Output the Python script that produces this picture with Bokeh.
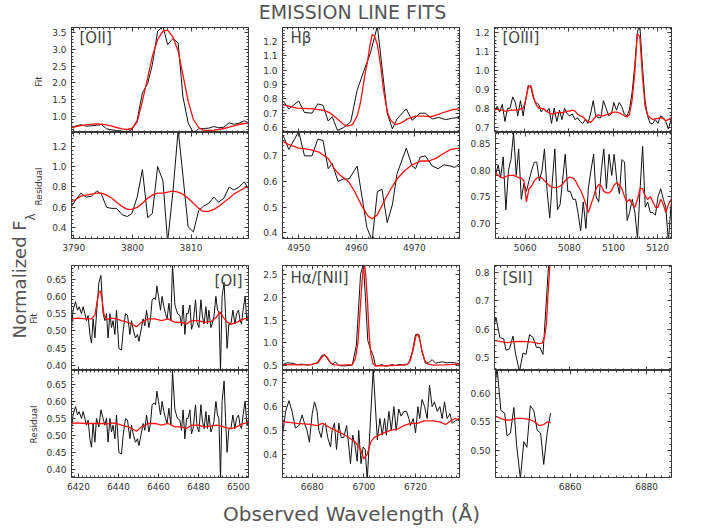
from math import pi
from bokeh.plotting import figure
from bokeh.models import Range1d, LinearAxis, SingleIntervalTicker, Label, PrintfTickFormatter
from bokeh.layouts import row, column
from bokeh.embed import file_html
from bokeh.resources import INLINE
from bokeh.core.properties import value

# ------------------------------------------------------------------ data
PANEL_NAMES = ["[OII]", "H\u03b2", "[OIII]", "[OI]", "H\u03b1/[NII]", "[SII]"]

# [OII]
OII_WL = [3789.5, 3790.4, 3791.2, 3792.1, 3793.0, 3793.9, 3794.7, 3795.6, 3796.5, 3797.3,
          3798.2, 3799.1, 3799.9, 3800.8, 3801.7, 3802.6, 3803.4, 3804.3, 3805.2, 3806.0,
          3806.9, 3807.8, 3808.6, 3809.5, 3810.4, 3811.3, 3812.1, 3813.0, 3813.9, 3814.7,
          3815.6, 3816.5, 3817.3, 3818.2, 3819.1, 3820.0]
OII_FIT_DATA = [0.65, 0.71, 0.74, 0.70, 0.71, 0.73, 0.75, 0.62, 0.59, 0.57,
                0.55, 0.52, 0.60, 0.88, 1.70, 1.98, 2.55, 3.55, 3.69, 3.15,
                3.33, 3.20, 1.60, 0.80, 0.50, 0.62, 0.63, 0.64, 0.69, 0.65,
                0.67, 0.80, 0.76, 0.79, 0.86, 0.78]
OII_FIT_MODEL = [0.65, 0.69, 0.72, 0.74, 0.76, 0.77, 0.76, 0.74, 0.70, 0.66,
                 0.62, 0.60, 0.63, 0.82, 1.45, 2.15, 2.80, 3.30, 3.55, 3.58,
                 3.38, 2.95, 2.25, 1.45, 0.90, 0.66, 0.58, 0.57, 0.58, 0.60,
                 0.63, 0.67, 0.71, 0.75, 0.78, 0.80]
OII_RES_DATA = [0.60, 0.68, 0.74, 0.70, 0.71, 0.76, 0.73, 0.60, 0.59, 0.59,
                0.53, 0.51, 0.54, 0.70, 0.97, 0.50, 0.54, 1.00, 0.86, 0.26,
                0.75, 1.36, 0.92, 0.41, 0.36, 0.57, 0.61, 0.64, 0.70, 0.65,
                0.69, 0.80, 0.77, 0.80, 0.85, 0.76]
OII_RES_MODEL = [0.65, 0.68, 0.71, 0.72, 0.73, 0.74, 0.74, 0.72, 0.69, 0.65,
                 0.61, 0.58, 0.58, 0.60, 0.64, 0.69, 0.72, 0.74, 0.74, 0.75,
                 0.76, 0.75, 0.73, 0.69, 0.64, 0.59, 0.56, 0.56, 0.58, 0.61,
                 0.65, 0.69, 0.73, 0.76, 0.79, 0.81]

# H-beta
HB_FIT_WL = [4946.5, 4947.4, 4948.3, 4950.0, 4951.0, 4952.3, 4953.3, 4954.2, 4955.1, 4955.8,
             4956.7, 4957.8, 4959.0, 4960.1, 4961.3, 4962.4, 4963.6, 4965.3, 4966.2, 4967.0,
             4968.6, 4969.6, 4971.0, 4971.9, 4973.1, 4974.2, 4975.4, 4976.6, 4977.8]
HB_FIT_DATA = [0.80, 0.78, 0.73, 0.785, 0.705, 0.70, 0.765, 0.755, 0.645, 0.675,
               0.58, 0.60, 0.64, 0.86, 1.00, 1.12, 1.31, 0.70, 0.59, 0.66,
               0.73, 0.65, 0.70, 0.70, 0.66, 0.67, 0.655, 0.665, 0.67]
HB_MOD_WL = [4946.5, 4947.2, 4949.7, 4952.6, 4954.4, 4955.5, 4956.7, 4957.8, 4958.4, 4959.3,
             4960.1, 4960.6, 4961.0, 4961.4, 4961.9, 4962.3, 4962.7, 4963.1, 4963.6, 4963.9,
             4964.3, 4964.6, 4965.0, 4965.4, 4965.9, 4966.7, 4967.6, 4968.8, 4970.2, 4971.7,
             4972.8, 4974.0, 4975.4, 4976.6, 4977.8]
HB_FIT_MODEL = [0.765, 0.76, 0.735, 0.73, 0.72, 0.70, 0.66, 0.62, 0.61, 0.62,
                0.68, 0.76, 0.85, 0.96, 1.06, 1.17, 1.25, 1.24, 1.18, 1.10,
                0.99, 0.88, 0.78, 0.70, 0.65, 0.62, 0.63, 0.66, 0.68, 0.68,
                0.675, 0.69, 0.71, 0.725, 0.73]
HB_RES_WL = [4946.5, 4947.3, 4948.3, 4950.0, 4951.0, 4952.3, 4953.3, 4954.2, 4955.1, 4955.8,
             4956.8, 4957.7, 4958.7, 4960.1, 4961.8, 4962.7, 4963.6, 4964.4, 4965.3, 4966.2,
             4967.0, 4968.6, 4969.6, 4970.2, 4971.0, 4971.9, 4973.1, 4974.1, 4975.1, 4976.3,
             4977.0, 4977.8]
HB_RES_DATA = [0.79, 0.78, 0.725, 0.795, 0.70, 0.70, 0.765, 0.76, 0.65, 0.67,
               0.60, 0.61, 0.61, 0.66, 0.42, 0.37, 0.56, 0.57, 0.44, 0.51,
               0.63, 0.73, 0.66, 0.65, 0.695, 0.70, 0.66, 0.65, 0.665, 0.66,
               0.655, 0.67]
HB_RMOD_WL = [4946.5, 4948.2, 4950.0, 4951.8, 4953.5, 4955.1, 4956.3, 4957.4, 4958.6, 4959.7,
              4960.9, 4962.0, 4962.7, 4963.6, 4964.7, 4965.9, 4967.0, 4968.2, 4969.6, 4971.1,
              4972.5, 4973.7, 4975.1, 4976.3, 4977.8]
HB_RES_MODEL = [0.765, 0.745, 0.73, 0.725, 0.715, 0.69, 0.645, 0.62, 0.60, 0.56,
                0.505, 0.465, 0.455, 0.47, 0.52, 0.57, 0.61, 0.64, 0.665, 0.68,
                0.68, 0.69, 0.71, 0.725, 0.73]

# [OIII]
OIII_WL = [5046.5, 5047.7, 5048.8, 5050.0, 5051.2, 5052.4, 5053.5, 5054.7, 5055.9, 5057.0,
           5058.2, 5059.4, 5060.5, 5061.7, 5062.9, 5064.1, 5065.2, 5066.4, 5067.6, 5068.7,
           5069.9, 5071.1, 5072.2, 5073.4, 5074.6, 5075.8, 5076.9, 5078.1, 5079.3, 5080.4,
           5081.6, 5082.8, 5083.9, 5085.1, 5086.3, 5087.5, 5088.6, 5089.8, 5091.0, 5092.1,
           5093.3, 5094.5, 5095.6, 5096.8, 5098.0, 5099.2, 5100.3, 5101.5, 5102.7, 5103.8,
           5105.0, 5106.2, 5107.3, 5108.5, 5109.7, 5110.9, 5112.0, 5113.2, 5114.4, 5115.5,
           5116.7, 5117.9, 5119.0, 5120.2, 5121.4, 5122.6, 5123.7, 5124.9, 5126.1]
OIII_FIT_DATA = [0.79, 0.81, 0.78, 0.82, 0.73, 0.80, 0.80, 0.86, 0.83, 0.76,
                 0.84, 0.76, 0.84, 0.92, 0.91, 0.85, 0.83, 0.82, 0.78, 0.80,
                 0.78, 0.80, 0.72, 0.80, 0.73, 0.79, 0.74, 0.80, 0.77, 0.76,
                 0.77, 0.74, 0.75, 0.73, 0.72, 0.74, 0.72, 0.77, 0.84, 0.76,
                 0.75, 0.75, 0.84, 0.80, 0.76, 0.77, 0.83, 0.79, 0.83, 0.81,
                 0.77, 0.76, 0.79, 0.88, 1.02, 1.20, 1.24, 1.02, 0.84, 0.76,
                 0.72, 0.72, 0.74, 0.72, 0.76, 0.75, 0.73, 0.69, 0.74]
OIII_FIT_MODEL = [0.79, 0.795, 0.79, 0.79, 0.785, 0.785, 0.79, 0.79, 0.79, 0.79,
                  0.795, 0.80, 0.84, 0.91, 0.92, 0.86, 0.82, 0.80, 0.80, 0.795,
                  0.785, 0.775, 0.77, 0.77, 0.775, 0.78, 0.775, 0.78, 0.785, 0.785,
                  0.79, 0.785, 0.77, 0.76, 0.755, 0.74, 0.73, 0.725, 0.74, 0.755,
                  0.765, 0.76, 0.76, 0.765, 0.77, 0.775, 0.78, 0.78, 0.775, 0.77,
                  0.76, 0.755, 0.765, 0.84, 0.98, 1.19, 1.18, 0.97, 0.81, 0.765,
                  0.75, 0.74, 0.745, 0.745, 0.75, 0.745, 0.735, 0.74, 0.75]
OIII_RES_DATA = [0.79, 0.81, 0.785, 0.825, 0.725, 0.80, 0.82, 0.87, 0.79, 0.84,
                 0.745, 0.775, 0.76, 0.78, 0.80, 0.815, 0.815, 0.78, 0.80, 0.84,
                 0.76, 0.71, 0.775, 0.84, 0.725, 0.735, 0.78, 0.83, 0.76, 0.76,
                 0.745, 0.745, 0.72, 0.685, 0.74, 0.69, 0.765, 0.80, 0.83, 0.75,
                 0.74, 0.80, 0.84, 0.765, 0.83, 0.79, 0.83, 0.78, 0.755, 0.82,
                 0.815, 0.705, 0.72, 0.745, 0.72, 0.67, 0.76, 0.845, 0.73, 0.74,
                 0.72, 0.72, 0.715, 0.75, 0.765, 0.745, 0.73, 0.665, 0.735]
OIII_RES_MODEL = [0.795, 0.79, 0.787, 0.785, 0.788, 0.79, 0.79, 0.79, 0.788, 0.786,
                  0.785, 0.78, 0.74, 0.765, 0.77, 0.78, 0.785, 0.787, 0.785, 0.78,
                  0.775, 0.77, 0.768, 0.767, 0.768, 0.77, 0.773, 0.78, 0.785, 0.787,
                  0.785, 0.78, 0.77, 0.762, 0.75, 0.735, 0.72, 0.735, 0.75, 0.765,
                  0.773, 0.77, 0.76, 0.757, 0.757, 0.762, 0.772, 0.776, 0.772, 0.765,
                  0.75, 0.74, 0.745, 0.735, 0.73, 0.745, 0.765, 0.765, 0.75, 0.745,
                  0.75, 0.74, 0.73, 0.73, 0.745, 0.735, 0.72, 0.735, 0.745]

# [OI]
OI_WL = [6416.5, 6417.3, 6418.5, 6419.5, 6420.3, 6421.5, 6422.3, 6423.2, 6424.0, 6424.8,
         6425.7, 6426.5, 6427.3, 6428.2, 6429.0, 6430.2, 6431.2, 6432.3, 6433.2, 6434.0,
         6434.8, 6435.7, 6436.5, 6437.3, 6438.2, 6439.0, 6440.2, 6441.5, 6442.3, 6443.5,
         6444.5, 6445.7, 6446.5, 6447.5, 6448.5, 6449.5, 6450.2, 6451.2, 6452.3, 6453.2,
         6454.0, 6455.2, 6456.0, 6456.8, 6457.8, 6458.5, 6459.2, 6460.0, 6461.0, 6461.8,
         6462.7, 6463.5, 6464.3, 6465.2, 6466.2, 6467.0, 6468.2, 6469.5, 6470.7, 6471.5,
         6472.3, 6473.2, 6474.0, 6474.8, 6475.7, 6476.5, 6477.3, 6478.5, 6479.3, 6480.2,
         6481.2, 6482.0, 6482.8, 6483.7, 6484.5, 6485.2, 6486.2, 6486.8, 6487.7, 6488.7,
         6489.5, 6490.2, 6491.0, 6491.8, 6492.8, 6493.5, 6494.3, 6495.2, 6496.2, 6497.2,
         6498.2, 6499.0, 6500.0, 6500.8, 6501.5, 6502.3, 6503.3, 6504.2, 6505.0]
OI_FIT_DATA = [0.51, 0.56, 0.585, 0.56, 0.57, 0.55, 0.57, 0.55, 0.53, 0.545,
               0.49, 0.465, 0.535, 0.48, 0.55, 0.64, 0.66, 0.55, 0.53, 0.55,
               0.48, 0.55, 0.51, 0.53, 0.49, 0.56, 0.45, 0.445, 0.50, 0.55,
               0.545, 0.49, 0.53, 0.50, 0.48, 0.49, 0.47, 0.50, 0.535, 0.515,
               0.56, 0.51, 0.535, 0.59, 0.595, 0.59, 0.63, 0.60, 0.56, 0.60,
               0.57, 0.55, 0.535, 0.58, 0.53, 0.69, 0.575, 0.55, 0.545, 0.515,
               0.575, 0.49, 0.55, 0.55, 0.575, 0.505, 0.52, 0.59, 0.525, 0.51,
               0.59, 0.54, 0.52, 0.57, 0.52, 0.56, 0.51, 0.52, 0.54, 0.60,
               0.56, 0.555, 0.385, 0.60, 0.64, 0.55, 0.45, 0.52, 0.52, 0.56,
               0.52, 0.55, 0.56, 0.53, 0.52, 0.56, 0.60, 0.53, 0.55]
OI_RES_DATA = [0.52, 0.56, 0.585, 0.56, 0.57, 0.55, 0.57, 0.55, 0.53, 0.545,
               0.49, 0.465, 0.535, 0.48, 0.55, 0.525, 0.575, 0.55, 0.53, 0.55,
               0.48, 0.55, 0.51, 0.53, 0.49, 0.56, 0.45, 0.445, 0.50, 0.55,
               0.545, 0.49, 0.53, 0.50, 0.48, 0.49, 0.47, 0.50, 0.535, 0.515,
               0.56, 0.51, 0.535, 0.59, 0.595, 0.59, 0.63, 0.60, 0.56, 0.60,
               0.57, 0.55, 0.535, 0.58, 0.53, 0.69, 0.575, 0.55, 0.545, 0.515,
               0.575, 0.49, 0.55, 0.55, 0.575, 0.505, 0.52, 0.59, 0.525, 0.51,
               0.59, 0.54, 0.52, 0.57, 0.52, 0.56, 0.51, 0.52, 0.54, 0.60,
               0.56, 0.55, 0.37, 0.60, 0.66, 0.55, 0.45, 0.52, 0.52, 0.56,
               0.52, 0.55, 0.56, 0.53, 0.52, 0.56, 0.60, 0.53, 0.55]
OI_MOD_WL = [6416.5, 6419.8, 6423.2, 6426.5, 6428.2, 6429.3, 6430.2, 6431.0, 6431.8, 6432.8,
             6434.0, 6436.5, 6439.0, 6441.5, 6444.8, 6447.3, 6449.0, 6451.5, 6454.8, 6458.2,
             6461.5, 6464.8, 6468.2, 6471.5, 6474.0, 6476.5, 6479.8, 6483.2, 6486.5, 6489.0,
             6490.7, 6492.3, 6494.5, 6496.5, 6499.0, 6501.5, 6505.0]
OI_FIT_MODEL = [0.535, 0.537, 0.535, 0.535, 0.545, 0.585, 0.612, 0.615, 0.59, 0.545,
                0.533, 0.537, 0.535, 0.53, 0.525, 0.518, 0.512, 0.525, 0.535, 0.535,
                0.53, 0.535, 0.525, 0.525, 0.52, 0.53, 0.53, 0.525, 0.528, 0.54,
                0.555, 0.54, 0.525, 0.52, 0.525, 0.533, 0.538]
OI_RES_MODEL = [0.535, 0.537, 0.535, 0.535, 0.535, 0.535, 0.535, 0.535, 0.535, 0.535,
                0.533, 0.537, 0.535, 0.53, 0.525, 0.518, 0.512, 0.525, 0.535, 0.535,
                0.53, 0.535, 0.525, 0.525, 0.52, 0.53, 0.53, 0.525, 0.528, 0.53,
                0.528, 0.525, 0.522, 0.52, 0.525, 0.533, 0.538]

# H-alpha / [NII]
HA_FIT_WL = [6668.5, 6670.3, 6672.2, 6674.2, 6676.1, 6678.0, 6680.0, 6681.9, 6683.9, 6685.1,
             6686.4, 6687.7, 6689.0, 6690.3, 6692.2, 6693.8, 6695.5, 6697.1, 6698.7, 6699.8,
             6700.6, 6701.5, 6702.6, 6703.6, 6704.5, 6705.8, 6707.1, 6708.4, 6709.7, 6710.9,
             6712.2, 6713.5, 6714.8, 6716.1, 6717.4, 6718.7, 6720.0, 6721.3, 6722.5, 6723.8,
             6725.1, 6726.4, 6727.7, 6729.0, 6730.3, 6732.0, 6733.5, 6735.1, 6736.9]
HA_FIT_DATA = [0.52, 0.56, 0.55, 0.52, 0.53, 0.51, 0.52, 0.56, 0.73, 0.72,
               0.60, 0.52, 0.58, 0.50, 0.49, 0.50, 0.51, 0.95, 2.50, 2.75,
               2.00, 1.05, 0.85, 0.72, 0.49, 0.50, 0.52, 0.48, 0.50, 0.52,
               0.50, 0.52, 0.52, 0.51, 0.55, 0.80, 1.18, 1.18, 0.80, 0.55,
               0.56, 0.63, 0.55, 0.57, 0.58, 0.56, 0.57, 0.56, 0.54]
HA_MOD_WL = [6668.5, 6674.2, 6679.3, 6682.2, 6683.5, 6684.6, 6685.8, 6687.1, 6688.6, 6692.2,
             6695.5, 6696.7, 6697.7, 6698.4, 6699.1, 6699.7, 6700.2, 6700.7, 6701.4, 6702.0,
             6702.7, 6703.5, 6704.5, 6706.4, 6710.3, 6714.2, 6716.7, 6718.0, 6719.1, 6720.0,
             6720.7, 6721.5, 6722.4, 6723.5, 6724.7, 6727.1, 6730.9, 6736.9]
HA_FIT_MODEL = [0.52, 0.515, 0.52, 0.56, 0.66, 0.74, 0.68, 0.56, 0.515, 0.51,
                0.52, 0.65, 1.00, 1.60, 2.20, 2.62, 2.75, 2.50, 1.90, 1.20,
                0.75, 0.55, 0.49, 0.49, 0.50, 0.51, 0.52, 0.62, 0.85, 1.12,
                1.20, 1.10, 0.85, 0.62, 0.53, 0.51, 0.515, 0.53]
HA_RES_WL = [6668.5, 6669.7, 6671.0, 6672.2, 6673.5, 6674.8, 6676.1, 6677.0, 6678.0, 6678.9,
             6680.0, 6680.9, 6681.9, 6682.6, 6683.5, 6684.2, 6685.1, 6686.0, 6687.1, 6687.7,
             6688.6, 6689.4, 6690.3, 6691.2, 6692.2, 6693.3, 6694.2, 6694.8, 6695.7, 6696.5,
             6697.4, 6698.0, 6698.9, 6699.7, 6700.5, 6701.3, 6703.6, 6705.2, 6706.2, 6707.1,
             6708.0, 6708.7, 6709.7, 6710.6, 6711.6, 6712.5, 6713.5, 6714.4, 6715.5, 6716.5,
             6717.4, 6718.0, 6719.1, 6720.0, 6720.9, 6721.6, 6722.5, 6723.5, 6724.5, 6725.4,
             6726.4, 6727.3, 6728.4, 6729.4, 6730.3, 6731.2, 6732.2, 6733.3, 6734.2, 6735.4,
             6736.9]
HA_RES_DATA = [0.48, 0.58, 0.625, 0.58, 0.51, 0.52, 0.565, 0.53, 0.50, 0.45,
               0.57, 0.62, 0.58, 0.50, 0.47, 0.52, 0.53, 0.47, 0.43, 0.50,
               0.53, 0.42, 0.53, 0.47, 0.47, 0.52, 0.43, 0.36, 0.48, 0.44,
               0.37, 0.50, 0.36, 0.43, 0.42, 0.29, 0.76, 0.46, 0.55, 0.48,
               0.55, 0.48, 0.58, 0.50, 0.60, 0.50, 0.59, 0.56, 0.58, 0.58,
               0.55, 0.52, 0.55, 0.49, 0.60, 0.55, 0.63, 0.60, 0.55, 0.69,
               0.60, 0.62, 0.58, 0.60, 0.55, 0.62, 0.55, 0.57, 0.53, 0.54,
               0.55]
HA_RMOD_WL = [6668.5, 6674.2, 6679.3, 6681.9, 6683.9, 6687.1, 6691.0, 6694.2, 6696.7, 6698.7,
              6700.0, 6701.3, 6702.6, 6703.9, 6705.8, 6707.7, 6710.3, 6712.9, 6715.5, 6718.0,
              6720.7, 6723.2, 6727.1, 6729.6, 6731.6, 6733.5, 6735.4, 6736.9]
HA_RES_MODEL = [0.537, 0.53, 0.525, 0.52, 0.53, 0.51, 0.49, 0.47, 0.45, 0.42,
                0.38, 0.40, 0.45, 0.47, 0.48, 0.49, 0.50, 0.505, 0.52, 0.53,
                0.53, 0.54, 0.54, 0.535, 0.525, 0.54, 0.55, 0.545]

# [SII]
SII_FIT_WL = [6840.5, 6840.9, 6841.9, 6842.9, 6843.5, 6844.4, 6845.3, 6846.0, 6847.0, 6847.9,
              6848.7, 6849.6, 6850.5, 6851.4, 6852.3, 6853.1, 6854.9]
SII_FIT_DATA = [0.62, 0.64, 0.57, 0.565, 0.525, 0.53, 0.575, 0.51, 0.45, 0.515,
                0.51, 0.58, 0.57, 0.535, 0.535, 0.51, 0.90]
SII_MOD_WL = [6840.5, 6842.1, 6843.8, 6845.5, 6847.3, 6849.0, 6850.7, 6852.0, 6852.9, 6853.5,
              6854.0, 6854.4, 6854.9, 6855.3]
SII_FIT_MODEL = [0.56, 0.555, 0.552, 0.555, 0.556, 0.555, 0.553, 0.548, 0.55, 0.57,
                 0.62, 0.72, 0.83, 0.95]
SII_RES_WL = [6840.5, 6840.9, 6841.9, 6842.9, 6843.5, 6844.4, 6845.3, 6846.0, 6847.0, 6847.9,
              6848.7, 6849.6, 6850.5, 6851.4, 6852.3, 6853.1, 6854.0, 6854.9]
SII_RES_DATA = [0.62, 0.645, 0.57, 0.565, 0.525, 0.53, 0.575, 0.51, 0.45, 0.515,
                0.505, 0.578, 0.57, 0.535, 0.53, 0.475, 0.53, 0.565]
SII_RMOD_WL = [6840.5, 6842.9, 6844.2, 6845.9, 6847.6, 6849.4, 6850.7, 6852.0, 6853.1, 6854.2,
               6854.9]
SII_RES_MODEL = [0.56, 0.553, 0.553, 0.556, 0.556, 0.554, 0.55, 0.543, 0.545, 0.55, 0.548]

# ------------------------------------------------------------------ style / layout
FONT = "DejaVu Sans"
AXC = "#3a3a3a"
TXT = "#333333"
BIG = "#555555"
RED = "#ff1010"
BLK = "#111111"
FRAME_W = 177

# per-panel axis ranges, tick intervals and tick-label formats
SPECS = [
    dict(xr=(3789.6, 3819.8), xint=10, fyr=(0.51, 3.66), fyi=0.5, ffmt="%.1f",
         ryr=(0.295, 1.334), ryi=0.2, rfmt="%.1f",
         fit=[(OII_WL, OII_FIT_DATA), (OII_WL, OII_FIT_MODEL)],
         res=[(OII_WL, OII_RES_DATA), (OII_WL, OII_RES_MODEL)], side="left"),
    dict(xr=(4947.2, 4977.8), xint=10, fyr=(0.565, 1.299), fyi=0.1, ffmt="%.1f",
         ryr=(0.378, 0.791), ryi=0.1, rfmt="%.1f",
         fit=[(HB_FIT_WL, HB_FIT_DATA), (HB_MOD_WL, HB_FIT_MODEL)],
         res=[(HB_RES_WL, HB_RES_DATA), (HB_RMOD_WL, HB_RES_MODEL)], side="left"),
    dict(xr=(5046.5, 5126.3), xint=20, fyr=(0.672, 1.226), fyi=0.1, ffmt="%.1f",
         ryr=(0.671, 0.871), ryi=0.05, rfmt="%.2f",
         fit=[(OIII_WL, OIII_FIT_DATA), (OIII_WL, OIII_FIT_MODEL)],
         res=[(OIII_WL, OIII_RES_DATA), (OIII_WL, OIII_RES_MODEL)], side="left"),
    dict(xr=(6416.5, 6505.0), xint=20, fyr=(0.386, 0.689), fyi=0.05, ffmt="%.2f",
         ryr=(0.376, 0.691), ryi=0.05, rfmt="%.2f",
         fit=[(OI_WL, OI_FIT_DATA), (OI_MOD_WL, OI_FIT_MODEL)],
         res=[(OI_WL, OI_RES_DATA), (OI_MOD_WL, OI_RES_MODEL)], side="right"),
    dict(xr=(6668.5, 6737.0), xint=20, fyr=(0.39, 2.70), fyi=0.5, ffmt="%.1f",
         ryr=(0.302, 0.752), ryi=0.1, rfmt="%.1f",
         fit=[(HA_FIT_WL, HA_FIT_DATA), (HA_MOD_WL, HA_FIT_MODEL)],
         res=[(HA_RES_WL, HA_RES_DATA), (HA_RMOD_WL, HA_RES_MODEL)], side="left"),
    dict(xr=(6840.5, 6886.5), xint=20, fyr=(0.453, 0.825), fyi=0.1, ffmt="%.1f",
         ryr=(0.452, 0.640), ryi=0.05, rfmt="%.2f",
         fit=[(SII_FIT_WL, SII_FIT_DATA), (SII_MOD_WL, SII_FIT_MODEL)],
         res=[(SII_RES_WL, SII_RES_DATA), (SII_RMOD_WL, SII_RES_MODEL)], side="left"),
]

YLAB_W = 42
COL_BORDERS = [(29, 8), (26, 8), (27, 35)]
TITLE_H = 23
XLAB_H = 34
# (border_top, frame_height, border_bottom)
ROW_A = (4, 105, 0)
ROW_B = (0, 106, 17)
ROW_C = (10, 105, 0)
ROW_D = (0, 107, 17)


def style_axis(ax, interval, nminor, show, fmt):
    ax.ticker = SingleIntervalTicker(interval=interval, num_minor_ticks=nminor)
    ax.axis_line_color = AXC
    ax.major_tick_line_color = AXC
    ax.minor_tick_line_color = AXC
    ax.major_tick_in = 4
    ax.major_tick_out = 0
    ax.minor_tick_in = 2
    ax.minor_tick_out = 0
    ax.axis_label = None
    if show:
        ax.formatter = PrintfTickFormatter(format=fmt)
        ax.major_label_text_font = FONT
        ax.major_label_text_font_size = "9px"
        ax.major_label_text_color = TXT
        ax.major_label_standoff = 5
    else:
        ax.major_label_text_font_size = "0px"
        ax.major_label_text_color = None
        ax.major_label_standoff = 0


def make_panel(spec, col, rowdims, kind, xlabels, name=None, name_dy=1):
    bl, br = COL_BORDERS[col]
    bt, fh, bb = rowdims
    yr = spec["fyr"] if kind == "fit" else spec["ryr"]
    yint = spec["fyi"] if kind == "fit" else spec["ryi"]
    yfmt = spec["ffmt"] if kind == "fit" else spec["rfmt"]
    p = figure(width=bl + FRAME_W + br, height=bt + fh + bb,
               x_range=Range1d(*spec["xr"]), y_range=Range1d(*yr),
               toolbar_location=None, output_backend="svg", title=None,
               min_border_left=bl, min_border_right=br,
               min_border_top=bt, min_border_bottom=bb)
    p.grid.visible = False
    p.outline_line_color = AXC
    p.border_fill_color = "white"
    style_axis(p.xaxis[0], spec["xint"], 10, xlabels, "%d")
    style_axis(p.yaxis[0], yint, 5, True, yfmt)
    top = LinearAxis()
    style_axis(top, spec["xint"], 10, False, "%d")
    p.add_layout(top, "above")
    rgt = LinearAxis()
    style_axis(rgt, yint, 5, False, yfmt)
    p.add_layout(rgt, "right")
    (dx, dy), (mx, my) = spec[kind]
    p.line(dx, dy, line_color=BLK, line_width=1)
    p.line(mx, my, line_color=RED, line_width=1.3)
    if name:
        if spec["side"] == "left":
            lab = Label(x=spec["xr"][0], y=yr[1], x_offset=8, y_offset=-name_dy,
                        text=name, text_align="left", text_baseline="top")
        else:
            lab = Label(x=spec["xr"][1], y=yr[1], x_offset=-6, y_offset=-name_dy,
                        text=name, text_align="right", text_baseline="top")
        lab.text_font = FONT
        lab.text_font_size = "15px"
        lab.text_color = "#444444"
        p.add_layout(lab)
    return p


def text_fig(w, h):
    f = figure(width=w, height=h, x_range=Range1d(0, w), y_range=Range1d(0, h),
               toolbar_location=None, output_backend="svg", min_border=0, title=None,
               x_axis_location=None, y_axis_location=None)
    f.grid.visible = False
    f.outline_line_color = None
    f.border_fill_color = "white"
    return f


rows = []
for dims, kind, top_idx in [(ROW_A, "fit", 0), (ROW_B, "res", 0),
                            (ROW_C, "fit", 3), (ROW_D, "res", 3)]:
    figs = []
    for c in range(3):
        idx = top_idx + c
        nm = PANEL_NAMES[idx] if kind == "fit" else None
        dy = 1 if top_idx == 0 else 3
        if idx == 3:
            dy = 6
        figs.append(make_panel(SPECS[idx], c, dims, kind, xlabels=(kind == "res"),
                               name=nm, name_dy=dy))
    rows.append(row(*figs))
grid = column(*rows)

GRID_H = sum(d[0] + d[1] + d[2] for d in (ROW_A, ROW_B, ROW_C, ROW_D))
TOTAL_W = YLAB_W + sum(bl + FRAME_W + br for bl, br in COL_BORDERS)

# left-hand labels (rotated)
ylab = text_fig(YLAB_W, GRID_H)
ylab.text(x=[19], y=[156], text=["Normalized F"], angle=pi / 2, text_align="left",
          text_baseline="middle", text_font=value(FONT), text_font_size=value("18px"),
          text_color=BIG)
ylab.text(x=[30], y=[274], text=["\u03bb"], angle=pi / 2, text_align="left",
          text_baseline="middle", text_font=value(FONT), text_font_size=value("12px"),
          text_color=BIG)
ylab.text(x=[38, 38, 33, 33], y=[413, 308, 176, 70], text=["Fit", "Residual", "Fit", "Residual"],
          angle=pi / 2, text_align="center", text_baseline="middle",
          text_font=value(FONT), text_font_size=value("9px"), text_color=TXT)

title = text_fig(TOTAL_W, TITLE_H)
title.text(x=[352], y=[12], text=["EMISSION LINE FITS"], text_align="center",
           text_baseline="middle", text_font=value(FONT), text_font_size=value("19px"),
           text_color=BIG)

xlab = text_fig(TOTAL_W, XLAB_H)
xlab.text(x=[351], y=[14.5], text=["Observed Wavelength (\u00c5)"], text_align="center",
          text_baseline="middle", text_font=value(FONT), text_font_size=value("20px"),
          text_color=BIG)

layout = column(title, row(ylab, grid), xlab)

open("out.html", "w").write(file_html(layout, INLINE))
